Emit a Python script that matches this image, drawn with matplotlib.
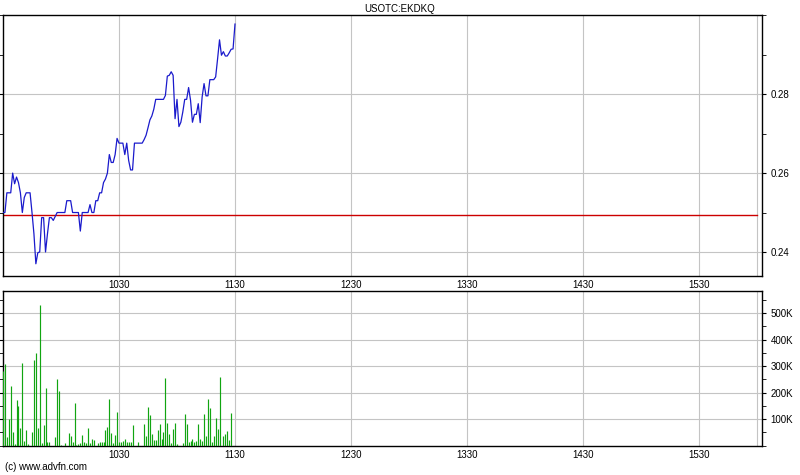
import matplotlib
matplotlib.use("Agg")
import matplotlib.pyplot as plt
from matplotlib.ticker import FixedLocator, MultipleLocator

# ---- data (minutes after 09:30) ----
price_minutes = list(range(0, 121))
prices = [
    0.2500, 0.2500, 0.2550, 0.2550, 0.2550, 0.2600, 0.2573, 0.2590, 0.2576, 0.2550,
    0.2500, 0.2538, 0.2550, 0.2550, 0.2550, 0.2500, 0.2446, 0.2370, 0.2398, 0.2400,
    0.2487, 0.2487, 0.2400, 0.2446, 0.2487, 0.2487, 0.2480, 0.2490, 0.2500, 0.2500,
    0.2500, 0.2500, 0.2500, 0.2530, 0.2530, 0.2530, 0.2500, 0.2500, 0.2500, 0.2500,
    0.2453, 0.2500, 0.2500, 0.2500, 0.2500, 0.2520, 0.2500, 0.2500, 0.2530, 0.2530,
    0.2550, 0.2550, 0.2576, 0.2585, 0.2600, 0.2647, 0.2627, 0.2627, 0.2647, 0.2688,
    0.2676, 0.2676, 0.2676, 0.2647, 0.2676, 0.2632, 0.2608, 0.2608, 0.2676, 0.2676,
    0.2676, 0.2676, 0.2676, 0.2685, 0.2696, 0.2715, 0.2735, 0.2745, 0.2762, 0.2787,
    0.2787, 0.2787, 0.2787, 0.2787, 0.2797, 0.2846, 0.2848, 0.2857, 0.2848, 0.2738,
    0.2787, 0.2718, 0.2729, 0.2755, 0.2787, 0.2787, 0.2817, 0.2785, 0.2729, 0.2749,
    0.2749, 0.2776, 0.2728, 0.2793, 0.2827, 0.2796, 0.2796, 0.2837, 0.2837, 0.2837,
    0.2844, 0.2890, 0.2938, 0.2899, 0.2908, 0.2897, 0.2897, 0.2905, 0.2914, 0.2915,
    0.2978,
]
prev_close = 0.2494

vol_minutes = [
    0, 1, 2, 3, 4, 5, 6, 7, 8, 9, 10, 11, 12, 13, 15, 16, 17, 18, 19, 20,
    21, 22, 23, 24, 27, 28, 29, 30, 32, 34, 35, 36, 37, 38, 39, 40, 41, 42, 43, 44,
    45, 46, 47, 49, 50, 51, 52, 53, 54, 55, 56, 57, 58, 59, 60, 61, 62, 63, 64, 65,
    66, 67, 70, 73, 74, 75, 76, 77, 78, 79, 80, 81, 82, 83, 84, 85, 86, 87, 88, 89,
    90, 93, 94, 95, 96, 97, 98, 99, 100, 101, 102, 103, 104, 105, 106, 107, 108, 109, 110, 111,
    112, 114, 115, 116, 117, 118,
]
volumes_k = [
    283, 308, 34, 101, 223, 53, 5, 172, 151, 67, 312, 19, 60, 5, 53, 321, 350, 67, 531, 10,
    79, 218, 12, 15, 34, 252, 206, 3, 8, 46, 37, 15, 161, 3, 5, 8, 40, 15, 8, 67,
    10, 26, 20, 10, 15, 15, 15, 60, 72, 177, 46, 10, 40, 126, 13, 15, 19, 26, 13, 13,
    13, 77, 13, 81, 35, 147, 115, 42, 23, 23, 58, 81, 26, 51, 254, 86, 45, 9, 62, 87,
    7, 9, 119, 81, 13, 19, 26, 13, 19, 81, 26, 19, 119, 35, 176, 141, 13, 35, 103, 64,
    260, 38, 45, 54, 23, 124,
]
hour_ticks = [60, 120, 180, 240, 300, 360]
hour_labels = ["1030", "1130", "1230", "1330", "1430", "1530"]
price_ticks = [0.24, 0.26, 0.28]
price_labels = ["0.24", "0.26", "0.28"]
vol_ticks = [100000, 200000, 300000, 400000, 500000]
vol_labels = ["100K", "200K", "300K", "400K", "500K"]

plt.rcParams["font.family"] = ["Liberation Sans", "DejaVu Sans"]
FS = 7

fig = plt.figure(figsize=(8, 4.75), dpi=100)
W, H = 800.0, 475.0

def box(x0, y0, x1, y1):
    return [x0 / W, 1 - y1 / H, (x1 - x0) / W, (y1 - y0) / H]

ax = fig.add_axes(box(3, 15, 762, 276))
axv = fig.add_axes(box(3, 290.7, 762, 446))

grid_c = "#c4c4c4"
for a in (ax, axv):
    a.set_xlim(0, 392.6)
    a.xaxis.set_major_locator(FixedLocator(hour_ticks))
    a.set_xticklabels(hour_labels, fontsize=FS)
    a.tick_params(axis="x", length=0, pad=3)
    a.grid(True, color=grid_c, lw=0.8, zorder=0)
    a.axvline(390, color=grid_c, lw=0.8, zorder=0)
    a.yaxis.tick_right()
    a.tick_params(axis="y", which="both", direction="out", length=3, pad=3,
                  labelsize=FS, left=True)
    for s in a.spines.values():
        s.set_linewidth(1.0)
        s.set_color("black")
    a.set_facecolor("white")

# price panel
ax.axhline(prev_close, xmin=0, xmax=390 / 392.6, color="#cc0000", lw=1.0, zorder=2)
ax.plot(price_minutes, prices, color="#1a1acc", lw=0.9, zorder=3)
ax.set_ylim(0.2339, 0.3001)
ax.yaxis.set_major_locator(FixedLocator(price_ticks))
ax.set_yticklabels(price_labels)
ax.yaxis.set_minor_locator(MultipleLocator(0.01))

# volume panel
axv.vlines(vol_minutes, 0, [v * 1000 for v in volumes_k], color="#11a511",
           lw=0.85, zorder=3)
axv.set_ylim(-1500, 584000)
axv.yaxis.set_major_locator(FixedLocator(vol_ticks))
axv.set_yticklabels(vol_labels)
axv.yaxis.set_minor_locator(MultipleLocator(50000))

fig.text(400 / W, 1 - 9 / H, "USOTC:EKDKQ", ha="center", va="center", fontsize=FS)
fig.text(5 / W, 1 - 467 / H, "(c) www.advfn.com", ha="left", va="center", fontsize=FS)

fig.savefig("out.png", dpi=100, facecolor="white")
